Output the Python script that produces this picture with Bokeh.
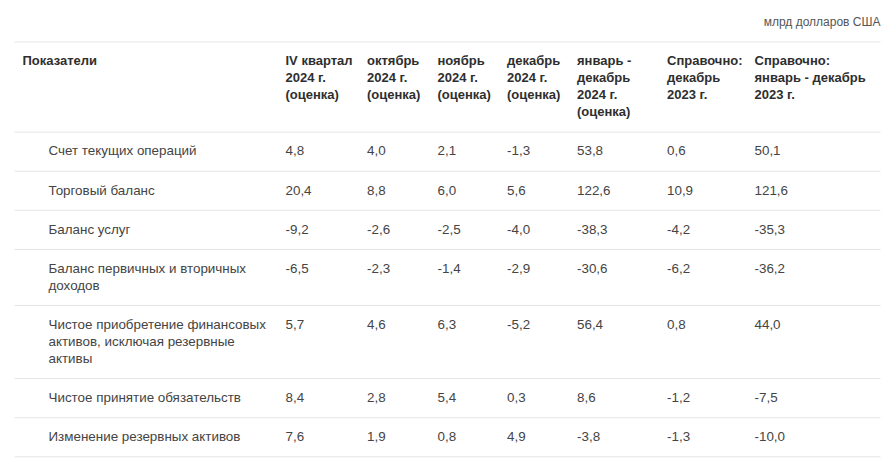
from bokeh.plotting import figure
from bokeh.models import Range1d
from bokeh.embed import file_html
from bokeh.resources import INLINE
from bokeh.core.properties import value

# ---------------- data ----------------
unit_label = "млрд долларов США"
first_header = "Показатели"
col_headers = [
    "IV квартал\n2024 г.\n(оценка)",
    "октябрь\n2024 г.\n(оценка)",
    "ноябрь\n2024 г.\n(оценка)",
    "декабрь\n2024 г.\n(оценка)",
    "январь -\nдекабрь\n2024 г.\n(оценка)",
    "Справочно:\nдекабрь\n2023 г.",
    "Справочно:\nянварь - декабрь\n2023 г.",
]
row_labels = [
    "Счет текущих операций",
    "Торговый баланс",
    "Баланс услуг",
    "Баланс первичных и вторичных\nдоходов",
    "Чистое приобретение финансовых\nактивов, исключая резервные\nактивы",
    "Чистое принятие обязательств",
    "Изменение резервных активов",
]
q4_2024 = [4.8, 20.4, -9.2, -6.5, 5.7, 8.4, 7.6]
oct_2024 = [4.0, 8.8, -2.6, -2.3, 4.6, 2.8, 1.9]
nov_2024 = [2.1, 6.0, -2.5, -1.4, 6.3, 5.4, 0.8]
dec_2024 = [-1.3, 5.6, -4.0, -2.9, -5.2, 0.3, 4.9]
year_2024 = [53.8, 122.6, -38.3, -30.6, 56.4, 8.6, -3.8]
dec_2023 = [0.6, 10.9, -4.2, -6.2, 0.8, -1.2, -1.3]
year_2023 = [50.1, 121.6, -35.3, -36.2, 44.0, -7.5, -10.0]
columns = [q4_2024, oct_2024, nov_2024, dec_2024, year_2024, dec_2023, year_2023]

# ---------------- layout (pixel space of the picture) ----------------
col_x = [285, 366.5, 437, 506.5, 576.5, 666.5, 754]
label_x = 48
header_x = 22
line_x0, line_x1 = 14, 880
top_line = 41.5
line_h = 17
pad_top = 18.8
pad_bottom = 20.3


def fmt(v):
    return f"{v:.1f}".replace(".", ",")


n_head = max(len(h.split("\n")) for h in col_headers)
hx, hy, ht = [header_x], [top_line + pad_top], [first_header]
for x, h in zip(col_x, col_headers):
    for i, part in enumerate(h.split("\n")):
        hx.append(x)
        hy.append(top_line + pad_top + i * line_h)
        ht.append(part)
header_bottom = top_line + pad_top + (n_head - 1) * line_h + pad_bottom

sep_y = [top_line, header_bottom]
lx, ly, lt = [], [], []
vx, vy, vt = [], [], []
y = header_bottom
for r, lab in enumerate(row_labels):
    parts = lab.split("\n")
    for i, part in enumerate(parts):
        lx.append(label_x)
        ly.append(y + pad_top + i * line_h)
        lt.append(part)
    for x, col in zip(col_x, columns):
        vx.append(x)
        vy.append(y + pad_top)
        vt.append(fmt(col[r]))
    y = y + pad_top + (len(parts) - 1) * line_h + pad_bottom
    sep_y.append(y)

W, H = 882, 460
p = figure(width=W, height=H, output_backend="svg", toolbar_location=None,
           x_range=Range1d(0, W), y_range=Range1d(H, 0),
           min_border=0, min_border_left=0, min_border_right=0,
           min_border_top=0, min_border_bottom=0)
p.axis.visible = False
p.grid.visible = False
p.outline_line_color = None
p.background_fill_color = "white"
p.border_fill_color = "white"

p.segment(x0=[line_x0] * len(sep_y), x1=[line_x1] * len(sep_y), y0=sep_y, y1=sep_y,
          line_color="#e5e5e5", line_width=1)

font = value("Liberation Sans")
p.text(x=[line_x1], y=[21], text=[unit_label], text_align="right", text_baseline="middle",
       text_font=font, text_font_size="12px", text_color="#555555")
p.text(x=hx, y=hy, text=ht, text_align="left", text_baseline="middle",
       text_font=font, text_font_size="13px", text_font_style="bold", text_color="#2e2e2e")
p.text(x=lx, y=ly, text=lt, text_align="left", text_baseline="middle",
       text_font=font, text_font_size="13.4px", text_color="#444444")
p.text(x=vx, y=vy, text=vt, text_align="left", text_baseline="middle",
       text_font=font, text_font_size="13.4px", text_color="#444444")

open("out.html", "w").write(file_html(p, INLINE))
